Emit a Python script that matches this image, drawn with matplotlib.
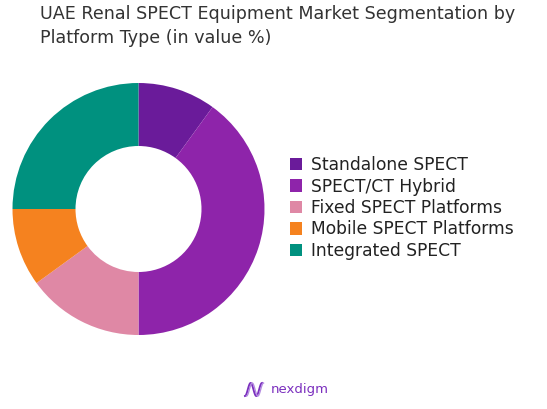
import matplotlib
matplotlib.use("Agg")
import matplotlib.pyplot as plt
from matplotlib.patches import Patch
from matplotlib.lines import Line2D
import numpy as np

plt.rcParams['font.family'] = ['DejaVu Sans']

categories = ["Standalone SPECT", "SPECT/CT Hybrid", "Fixed SPECT Platforms",
              "Mobile SPECT Platforms", "Integrated SPECT"]
values = [10, 40, 15, 10, 25]
colors = ["#6a1b9a", "#8e24aa", "#df88a5", "#f5821f", "#00917f"]
title_lines = ["UAE Renal SPECT Equipment Market Segmentation by",
               "Platform Type (in value %)"]

W, H = 547, 409
fig = plt.figure(figsize=(W / 100, H / 100), dpi=100)

cx, cy, r = 138.5, 209, 126
ax = fig.add_axes([(cx - r) / W, (H - cy - r) / H, 2 * r / W, 2 * r / H])
ax.pie(values, colors=colors, startangle=90, counterclock=False, radius=1,
       wedgeprops=dict(width=0.5, edgecolor="none"))
ax.set_xlim(-1, 1)
ax.set_ylim(-1, 1)
ax.set_aspect("equal")
ax.axis("off")

for line, yb in zip(title_lines, [19, 43]):
    fig.text(40 / W, 1 - yb / H, line, ha="left", va="baseline",
             fontsize=12.6, color="#333333")

handles = [Patch(facecolor=c, edgecolor="none") for c in colors]
fig.legend(handles, categories, loc="center left",
           bbox_to_anchor=(283 / W, 1 - 208 / H), frameon=False,
           fontsize=12.3, handlelength=0.73, handleheight=0.73,
           handletextpad=0.5, labelspacing=0.2, borderaxespad=0,
           labelcolor="#222222")

# logo
t = np.linspace(0, 1, 80)
for dx, col, lw in [(0, "#7b2fbe", 1.4), (1.5, "#b38ae0", 1.0)]:
    xs = (245 + dx + 17 * t) / W
    ys = 1 - (389.5 + 6.5 * np.cos(3 * np.pi * t)) / H
    fig.add_artist(Line2D(xs, ys, color=col, lw=lw))
fig.text(271 / W, 1 - 390 / H, "nexdigm", ha="left", va="center",
         fontsize=9.5, color="#7b2fbe")

fig.savefig("out.png", dpi=100, facecolor="white")
